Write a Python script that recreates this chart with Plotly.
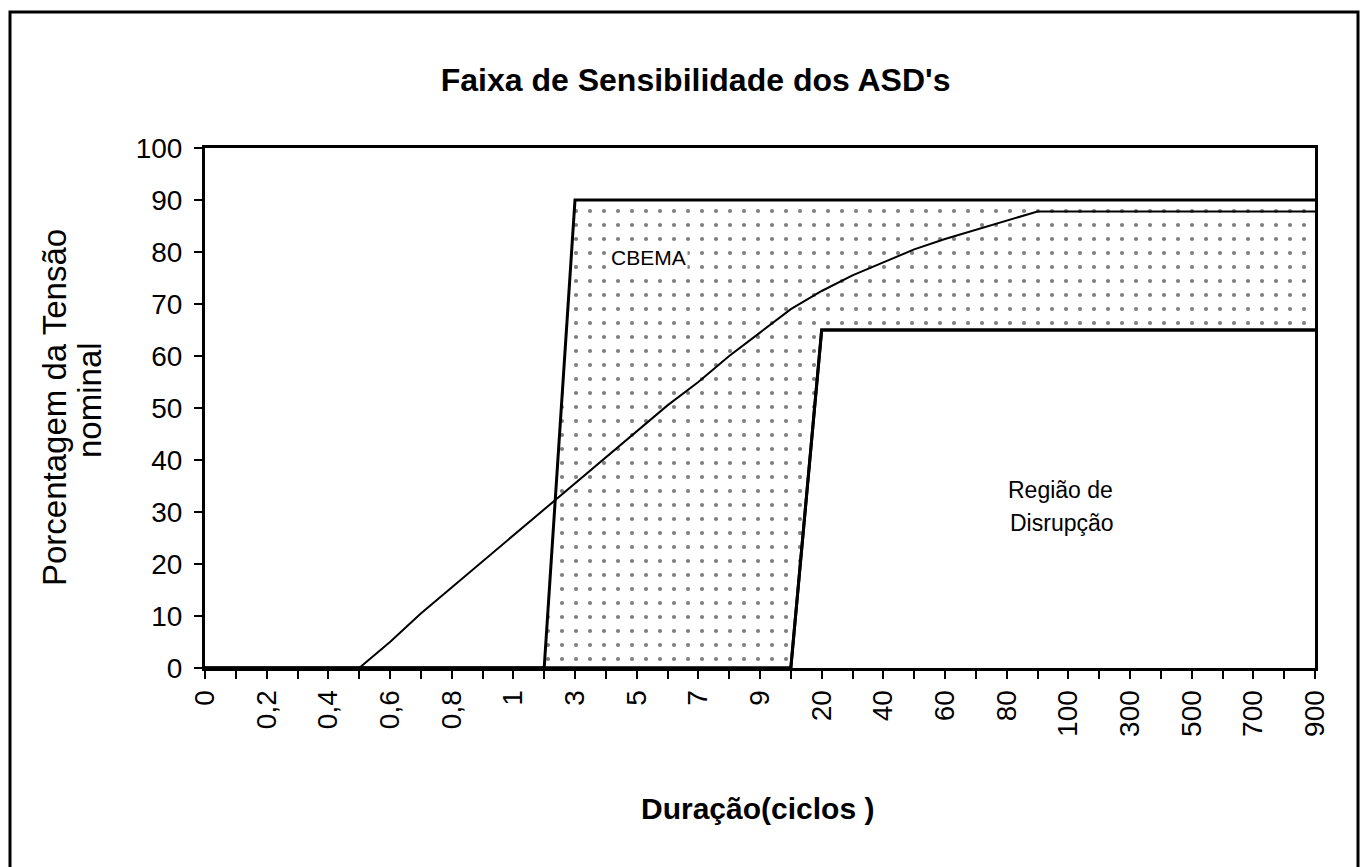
import plotly.graph_objects as go

# categorias do eixo x (duracao em ciclos)
categorias = ["0", "0,1", "0,2", "0,3", "0,4", "0,5", "0,6", "0,7", "0,8", "0,9",
              "1", "2", "3", "4", "5", "6", "7", "8", "9",
              "10", "20", "30", "40", "50", "60", "70", "80", "90",
              "100", "200", "300", "400", "500", "600", "700", "800", "900"]
# so metade das categorias tem rotulo
rotulos = [c if i % 2 == 0 else "" for i, c in enumerate(categorias)]

# curva de sensibilidade dos ASD's (%)
asd = [0, 0, 0, 0, 0, 0, 5, 10.5, 15.5, 20.5,
       25.5, 30.5, 35.5, 40.5, 45.5, 50.5, 55, 60, 64.5,
       69, 72.5, 75.5, 78, 80.5, 82.5, 84.3, 86, 87.8,
       87.8, 87.8, 87.8, 87.8, 87.8, 87.8, 87.8, 87.8, 87.8]
# limite superior (CBEMA)
cbema = [0] * 12 + [90] * 25
# limite da regiao de disrupcao
disrupcao = [0] * 20 + [65] * 17

fonte = "Liberation Sans, Arial, sans-serif"

fig = go.Figure()
fig.add_trace(go.Scatter(x=categorias, y=disrupcao, mode="lines",
                         line=dict(color="black", width=3), showlegend=False))
fig.add_trace(go.Scatter(x=categorias, y=cbema, mode="lines", fill="tonexty",
                         fillcolor="white",
                         fillpattern=dict(shape=".", size=14, solidity=0.07,
                                          fgcolor="black", bgcolor="white"),
                         line=dict(color="black", width=3), showlegend=False))
fig.add_trace(go.Scatter(x=categorias, y=disrupcao, mode="lines",
                         line=dict(color="black", width=3), showlegend=False))
fig.add_trace(go.Scatter(x=categorias, y=asd, mode="lines",
                         line=dict(color="black", width=2), showlegend=False))

fig.update_layout(
    width=1368, height=867,
    margin=dict(l=205, r=53, t=148, b=199),
    paper_bgcolor="white", plot_bgcolor="white",
    font=dict(family=fonte, color="black"),
    title=dict(text="<b>Faixa de Sensibilidade dos ASD's</b>",
               font=dict(size=32, family=fonte, color="black"),
               x=0.442, xref="paper", xanchor="center",
               y=1 - 80 / 867, yanchor="middle"),
    xaxis=dict(type="category", range=[0, 36],
               tickmode="array", tickvals=categorias, ticktext=rotulos,
               tickangle=-90, tickfont=dict(size=28),
               ticks="outside", ticklen=8, tickwidth=2, tickcolor="black",
               showline=True, linecolor="black", linewidth=3, mirror=True,
               showgrid=False, zeroline=False),
    yaxis=dict(range=[0, 100], dtick=10, tickfont=dict(size=28),
               ticks="outside", ticklen=8, tickwidth=2, tickcolor="black",
               ticklabelstandoff=6,
               showline=True, linecolor="black", linewidth=3, mirror=True,
               showgrid=False, zeroline=False),
    annotations=[
        dict(text="<b>Duração(ciclos )</b>", xref="paper", yref="paper",
             x=0.498, y=(668 - 808) / 520, xanchor="center", yanchor="middle",
             showarrow=False, font=dict(size=30)),
        dict(text="Porcentagem da Tensão", xref="paper", yref="paper",
             x=(54 - 205) / 1110, y=(668 - 408) / 520, xanchor="center",
             yanchor="middle", textangle=-90, showarrow=False,
             font=dict(size=33)),
        dict(text="nominal", xref="paper", yref="paper",
             x=(89 - 205) / 1110, y=(668 - 400) / 520, xanchor="center",
             yanchor="middle", textangle=-90, showarrow=False,
             font=dict(size=33)),
        dict(text="CBEMA", xref="paper", yref="paper",
             x=(648 - 205) / 1110, y=(668 - 257) / 520, xanchor="center",
             yanchor="middle", showarrow=False, font=dict(size=21),
             bgcolor="white"),
        dict(text="Região de", xref="paper", yref="paper",
             x=(1006 - 205) / 1110, y=(668 - 490) / 520, xanchor="left",
             yanchor="middle", showarrow=False, font=dict(size=23)),
        dict(text="Disrupção", xref="paper", yref="paper",
             x=(1008 - 205) / 1110, y=(668 - 523) / 520, xanchor="left",
             yanchor="middle", showarrow=False, font=dict(size=23)),
    ],
    shapes=[
        dict(type="rect", xref="paper", yref="paper",
             x0=(10 - 205) / 1110, x1=(1358 - 205) / 1110,
             y0=-0.39, y1=(668 - 12) / 520,
             line=dict(color="black", width=3)),
    ],
)

fig.write_html("out.html", config={"displayModeBar": False},
               post_script="document.body.style.margin='0';")
